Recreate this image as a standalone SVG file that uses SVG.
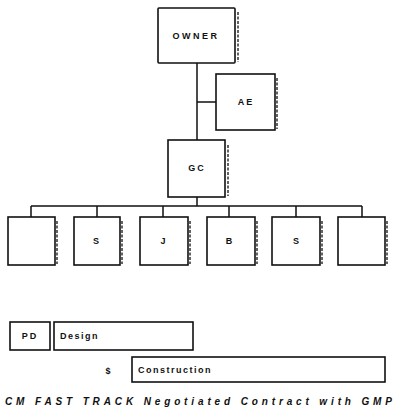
<svg xmlns="http://www.w3.org/2000/svg" width="395" height="411" viewBox="0 0 395 411">
<style>
.box{fill:#fff;stroke:#111;stroke-width:1.6}
.sh{fill:none;stroke:#222;stroke-width:1.4;stroke-dasharray:3 1.5}
.ln{fill:none;stroke:#111;stroke-width:1.5}
.t{font-family:"Liberation Sans",Arial,sans-serif;font-weight:bold;font-size:9px;fill:#111;text-anchor:middle;dominant-baseline:central}
.tl{font-family:"Liberation Sans",Arial,sans-serif;font-weight:bold;font-size:9px;fill:#111;dominant-baseline:central;letter-spacing:1.5px}
.cap{font-family:"Liberation Sans",Arial,sans-serif;font-weight:bold;font-style:italic;font-size:10px;fill:#111}
</style>
<rect width="395" height="411" fill="#fff"/>
<g id="connectors">
<path class="ln" d="M197 63V140M197 102H216M197 197V206M31 206H362M31 206V217M97 206V217M163 206V217M229 206V217M296 206V217M362 206V217"/>
</g>
<g id="owner">
<rect class="box" x="158" y="8" width="77" height="55" rx="1"/>
<path class="sh" d="M238 12V62"/>
<text class="t" x="196" y="36" letter-spacing="2.5">OWNER</text>
</g>
<g id="ae">
<rect class="box" x="216" y="74" width="59" height="56"/>
<path class="sh" d="M277 78V129"/>
<text class="t" x="246" y="102" letter-spacing="2">AE</text>
</g>
<g id="gc">
<rect class="box" x="168" y="140" width="57" height="57"/>
<path class="sh" d="M228 145V196"/>
<text class="t" x="197" y="168" letter-spacing="2">GC</text>
</g>
<g id="sub1">
<rect class="box" x="8" y="217" width="47" height="48"/>
<path class="sh" d="M57 221V264"/>
</g>
<g id="sub2">
<rect class="box" x="74" y="217" width="46" height="48"/>
<path class="sh" d="M122 221V264"/>
<text class="t" x="96" y="241">S</text>
</g>
<g id="sub3">
<rect class="box" x="140" y="217" width="48" height="48"/>
<path class="sh" d="M190 221V264"/>
<text class="t" x="163" y="241">J</text>
</g>
<g id="sub4">
<rect class="box" x="207" y="217" width="48" height="48"/>
<path class="sh" d="M257 221V264"/>
<text class="t" x="229" y="241">B</text>
</g>
<g id="sub5">
<rect class="box" x="272" y="217" width="48" height="48"/>
<path class="sh" d="M322 221V264"/>
<text class="t" x="296" y="241">S</text>
</g>
<g id="sub6">
<rect class="box" x="338" y="217" width="47" height="48"/>
<path class="sh" d="M387 221V264"/>
</g>
<g id="pd">
<rect class="box" x="10" y="322" width="40" height="28"/>
<text class="t" x="30" y="336" letter-spacing="2">PD</text>
</g>
<g id="design">
<rect class="box" x="54" y="322" width="139" height="28"/>
<text class="tl" x="60" y="336">Design</text>
</g>
<g id="dollar">
<text class="t" x="108" y="371">$</text>
</g>
<g id="construction">
<rect class="box" x="132" y="357" width="253" height="25"/>
<text class="tl" x="138" y="370">Construction</text>
</g>
<text class="cap" x="5" y="405" textLength="387" lengthAdjust="spacing">CM FAST TRACK Negotiated Contract with GMP</text>
</svg>
